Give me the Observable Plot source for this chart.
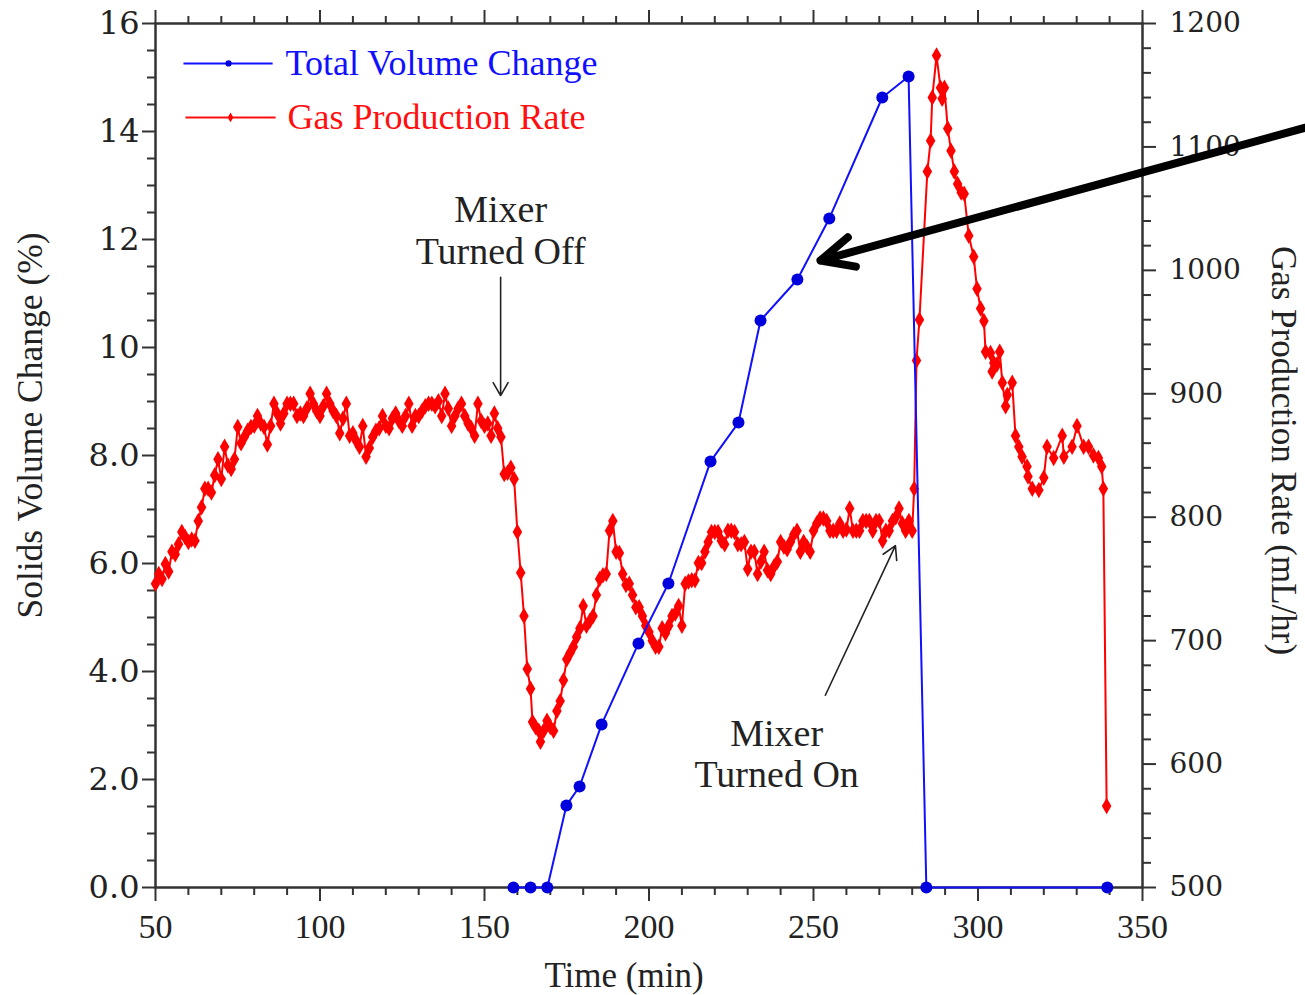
<!DOCTYPE html>
<html>
<head>
<meta charset="utf-8">
<script src="https://cdn.jsdelivr.net/npm/d3@7"></script>
<script src="https://cdn.jsdelivr.net/npm/@observablehq/plot@0.6"></script>
<style>
  html, body { margin: 0; padding: 0; background: #fff; }
  #chart svg { display: block; }
</style>
</head>
<body>
<div id="chart"></div>
<script>
// ---------- data ----------
// Total Volume Change (%), left axis
const volumeTime = [158.8, 164, 169.1, 174.9, 178.9, 185.6, 196.8, 205.9, 218.7, 227.2, 233.9, 245.1, 254.8, 270.9, 278.9, 284.3, 339.3];
const volumeValue = [0, 0, 0, 1.52, 1.87, 3.02, 4.52, 5.63, 7.89, 8.61, 10.5, 11.26, 12.39, 14.63, 15.02, 0, 0];

// Gas Production Rate (mL/hr), right axis: [time, rate]
const gasRate = [
  [50,746],[51,754],[52,750],[53,762],[54,756],[55,772],[56,770],[57,778],[58,788],[59,784],
  [60,780],[61,782],[62,781],[63,797],[64,808],[65,823],[66,823],[67,820],[68,834],[69,847],
  [70,831],[71,857],[72,842],[73,839],[74,847],[75,873],[76,860],[77,865],[78,870],[79,873],
  [80,874],[81,882],[82,876],[83,873],[84,859],[85,874],[86,892],[87,884],[88,876],[89,884],
  [90,892],[91,892],[92,892],[93,882],[94,884],[95,882],[96,888],[97,900],[98,892],[99,886],
  [100,882],[101,890],[102,900],[103,892],[104,886],[105,882],[106,868],[107,880],[108,892],[109,866],
  [110,868],[111,862],[112,857],[113,874],[114,849],[115,856],[116,865],[117,870],[118,872],[119,882],
  [120,874],[121,872],[122,880],[123,884],[124,878],[125,874],[126,882],[127,892],[128,874],[129,882],
  [130,882],[131,886],[132,890],[133,892],[134,892],[135,890],[136,894],[137,882],[138,900],[139,888],
  [140,874],[141,882],[142,888],[143,892],[144,882],[145,876],[146,872],[147,866],[148,892],[149,878],
  [150,874],[151,876],[152,866],[153,884],[154,872],[155,865],[156,835],[157,836],[158,840],[159,831],
  [160,788],[161,755],[162,720],[163,677],[164,661],[164.6,634],[165.5,630],[166.5,627],[167,618],[168,627],
  [169,635],[170,630],[171,627],[172,643],[173,651],[174,668],[175,685],[176,690],[177,695],[178,703],
  [179,710],[180,728],[181,712],[182,716],[183,720],[184,737],[185,750],[186,753],[187,754],[188,789],
  [189,797],[190,772],[191,771],[192,754],[193,745],[194,746],[195,737],[196,727],[197,727],[198,720],
  [199,712],[200,707],[201,700],[202,695],[203,695],[204,710],[205,706],[206,712],[207,720],[208,722],
  [209,728],[210,712],[211,746],[212,748],[213,749],[214,749],[215,763],[216,763],[217,772],[218,780],
  [219,788],[220,788],[221,788],[222,781],[223,778],[224,789],[225,789],[226,788],[227,778],[228,778],
  [229,780],[230,758],[231,772],[232,772],[233,754],[234,764],[235,772],[236,757],[237,754],[238,760],
  [239,764],[240,780],[241,776],[242,774],[243,780],[244,786],[245,789],[246,772],[247,780],[248,776],
  [249,772],[250,789],[251,795],[252,799],[253,799],[254,797],[255,789],[256,789],[257,789],[258,795],
  [259,789],[260,790],[261,807],[262,789],[263,789],[264,789],[265,797],[266,797],[267,797],[268,789],
  [269,797],[270,797],[271,781],[272,789],[273,789],[274,797],[275,800],[276,807],[277,795],[278,789],
  [279,797],[280,789],[280.6,823],[281.3,927],[282.2,960],[284.6,1080],[285.6,1105],[286.1,1140],[287.4,1174],[288.6,1148],
  [289.1,1139],[289.8,1148],[290.8,1115],[291.8,1097],[292.8,1080],[293.8,1070],[294.9,1063],[295.8,1062],[297.2,1028],[298.7,1011],
  [299.7,985],[300.8,969],[301.8,959],[302.3,934],[303.8,933],[304.3,918],[304.8,925],[305.8,924],[306.6,934],[307.4,909],
  [308.4,890],[308.9,899],[310.4,909],[311.4,866],[312.4,857],[313.4,849],[314.9,841],[315.2,833],[316.5,823],[318.5,822],
  [320,832],[321,857],[323,848],[325.6,866],[326.1,849],[328.6,857],[330.1,874],[332.1,857],[333.6,857],[335.1,850],
  [336.6,848],[337.6,841],[338.1,823],[339.1,566]
];

// axis ticks
const xMajor = [50, 100, 150, 200, 250, 300, 350];
const xMinor = d3.range(60, 350, 10).filter(d => d % 50 !== 0);
const leftMajor = [0, 2, 4, 6, 8, 10, 12, 14, 16];
const leftMinor = d3.range(0.5, 16, 0.5).filter(d => d % 2 !== 0);
const rightMajor = [500, 600, 700, 800, 900, 1000, 1100, 1200];
const rightMinor = d3.range(520, 1200, 20).filter(d => d % 100 !== 0);

// labels & annotations
const seriesNames = ["Total Volume Change", "Gas Production Rate"];
const axisTitles = {x: "Time (min)", left: "Solids Volume Change (%)", right: "Gas Production Rate (mL/hr)"};
const notes = [
  {text: "Mixer\nTurned Off", x: 154.9, y: 12.19},
  {text: "Mixer\nTurned On", x: 238.8, y: 2.49}
];
const thinArrows = [
  {x1: 154.9, y1: 11.30, x2: 154.9, y2: 9.11},
  {x1: 253.6, y1: 3.56, x2: 274.9, y2: 6.33}
];
const bigArrow = [{x1: 399.5, y1: 14.07, x2: 252.1, y2: 11.61}];
const legendRows = [
  {name: seriesNames[0], color: "#1010ff", dot: "#0000dd", symbol: "circle", r: 5, y: 15.26, x1: 58.5, x2: 85.6, xm: 72.2, xt: 89.5},
  {name: seriesNames[1], color: "#ff1010", dot: "#ff0000", symbol: "diamond", r: 4.5, y: 14.26, x1: 59.1, x2: 86.5, xm: 72.8, xt: 90.1}
];

// ---------- helpers ----------
const toLeft = v => (v - 500) / 700 * 16;
const fromLeft = y => Math.round(y / 16 * 700 + 500);
const volData = volumeTime.map((t, i) => ({t, v: volumeValue[i]}));
const gasData = gasRate.map(([t, v]) => ({t, y: toLeft(v)}));

const FONT = "'Liberation Serif', 'Times New Roman', serif";
const WIDE = "'DejaVu Serif', serif";
const BLUE = "#1010ff", RED = "#ff0000";

const chart = Plot.plot({
  width: 1305,
  height: 995,
  marginLeft: 155,
  marginRight: 163,
  marginTop: 23,
  marginBottom: 108,
  style: {fontFamily: FONT, fontSize: "33px", color: "#222", background: "#fff", overflow: "visible"},
  x: {domain: [50, 350], label: null},
  y: {domain: [0, 16], label: null},
  marks: [
    // axes
    Plot.axisX(xMajor, {anchor: "bottom", tickSize: 14, tickPadding: 12, tickFormat: d => String(d), fontSize: 34, stroke: "#333", strokeWidth: 2, label: null}),
    Plot.axisX(xMinor, {anchor: "bottom", tickSize: 8, tickFormat: () => "", stroke: "#333", strokeWidth: 2, label: null}),
    Plot.axisX(xMajor, {anchor: "top", tickSize: 14, tickFormat: () => "", stroke: "#333", strokeWidth: 2, label: null}),
    Plot.axisX(xMinor, {anchor: "top", tickSize: 8, tickFormat: () => "", stroke: "#333", strokeWidth: 2, label: null}),
    Plot.axisY(leftMajor, {anchor: "left", tickSize: 13, tickPadding: 3, tickFormat: d => d < 10 ? d.toFixed(1) : String(d), fontSize: 32, fontFamily: WIDE, stroke: "#333", strokeWidth: 2, label: null}),
    Plot.axisY(leftMinor, {anchor: "left", tickSize: 8, tickFormat: () => "", stroke: "#333", strokeWidth: 2, label: null}),
    Plot.axisY(rightMajor.map(toLeft), {anchor: "right", tickSize: 13, tickPadding: 14, tickFormat: d => String(fromLeft(d)), fontSize: 28, fontFamily: WIDE, stroke: "#333", strokeWidth: 2, label: null}),
    Plot.axisY(rightMinor.map(toLeft), {anchor: "right", tickSize: 8, tickFormat: () => "", stroke: "#333", strokeWidth: 2, label: null}),
    Plot.frame({stroke: "#333", strokeWidth: 2.5}),

    // axis titles
    Plot.text([axisTitles.x], {frameAnchor: "bottom", textAnchor: "middle", lineAnchor: "middle", dx: -25, dy: 88, fontSize: 35, fill: "#222"}),
    Plot.text([axisTitles.left], {frameAnchor: "left", textAnchor: "middle", lineAnchor: "middle", dx: -125, dy: -30, rotate: -90, fontSize: 35.5, fill: "#222"}),
    Plot.text([axisTitles.right], {frameAnchor: "right", textAnchor: "middle", lineAnchor: "middle", dx: 141, dy: -5, rotate: 90, fontSize: 35, fill: "#222"}),

    // series
    Plot.line(gasData, {x: "t", y: "y", stroke: RED, strokeWidth: 2}),
    Plot.dot(gasData, {x: "t", y: "y", symbol: "diamond", r: 5, fill: RED}),
    Plot.line(volData, {x: "t", y: "v", stroke: BLUE, strokeWidth: 2}),
    Plot.dot(volData, {x: "t", y: "v", r: 6, fill: "#0000dd"}),

    // legend
    Plot.link(legendRows, {x1: "x1", x2: "x2", y1: "y", y2: "y", stroke: "color", strokeWidth: 2}),
    Plot.dot(legendRows, {x: "xm", y: "y", fill: "dot", symbol: "symbol", r: "r"}),
    Plot.text(legendRows, {x: "xt", y: "y", text: "name", fill: "color", textAnchor: "start", fontSize: 36}),

    // annotations
    Plot.text(notes, {x: "x", y: "y", text: "text", fontSize: 38, lineHeight: 1.1, fill: "#222"}),
    Plot.arrow(thinArrows, {x1: "x1", y1: "y1", x2: "x2", y2: "y2", stroke: "#222", strokeWidth: 1.6, headLength: 14, headAngle: 60}),
    Plot.arrow(bigArrow, {x1: "x1", y1: "y1", x2: "x2", y2: "y2", stroke: "#000", strokeWidth: 8, headLength: 6.75, headAngle: 50})
  ]
});
chart.setAttribute("font-family", FONT);
document.getElementById("chart").appendChild(chart);
</script>
</body>
</html>
